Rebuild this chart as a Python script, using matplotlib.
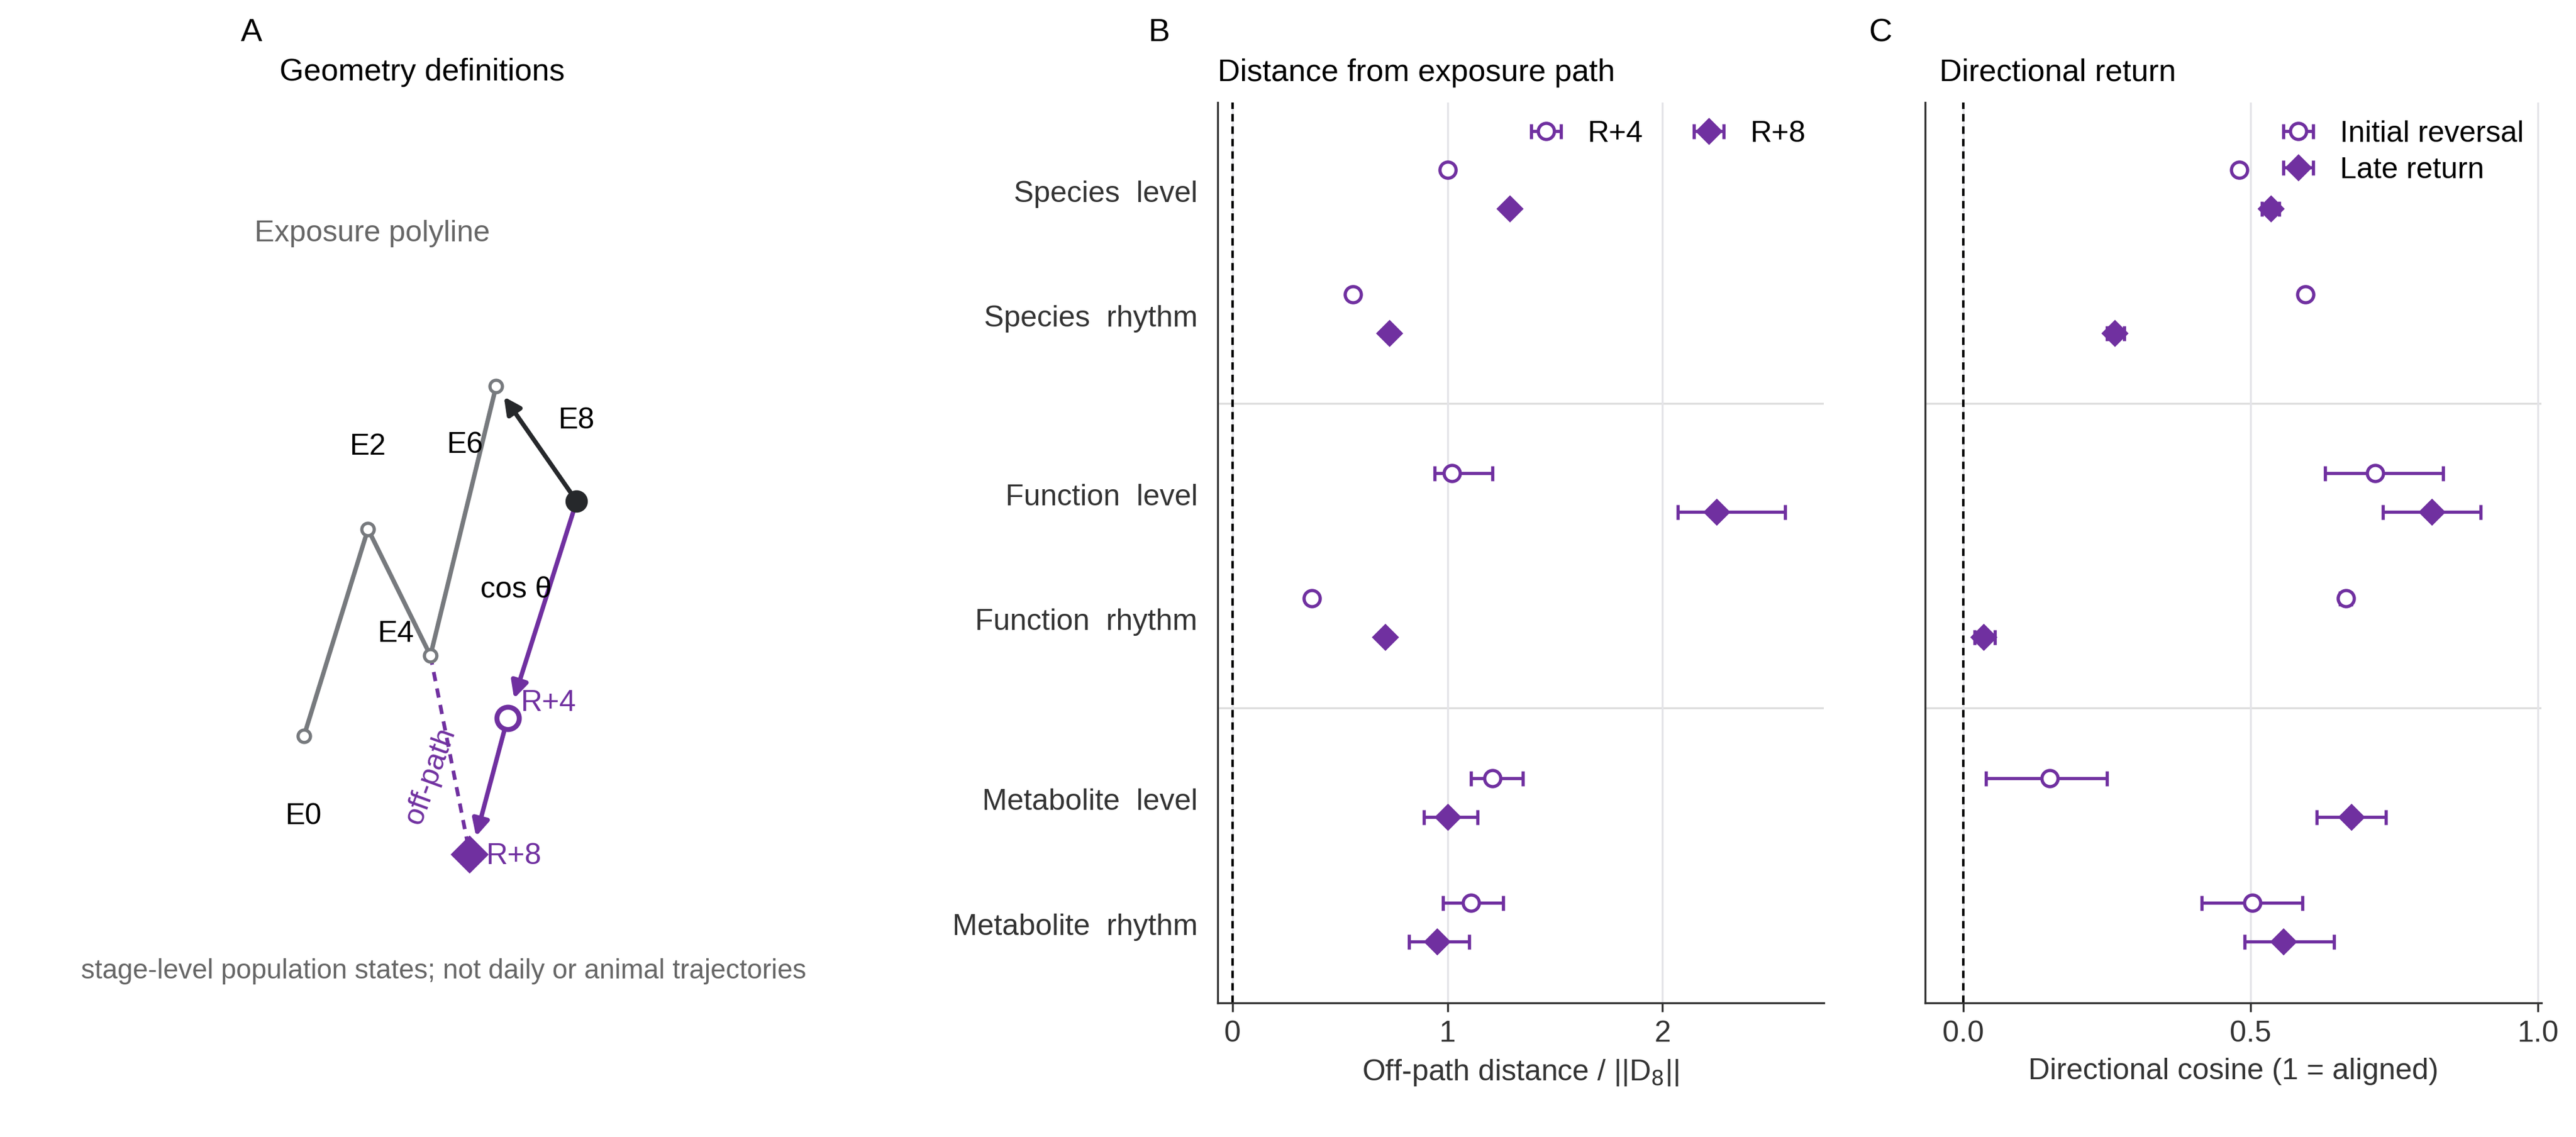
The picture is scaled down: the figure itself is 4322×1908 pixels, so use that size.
import numpy as np
import matplotlib.pyplot as plt

plt.rcParams['font.family'] = ['Liberation Sans', 'DejaVu Sans']
plt.rcParams['font.size'] = 12

purple = '#7030a0'
grey = '#777a7e'
dark = '#26282b'

rows = ['Species  level', 'Species  rhythm', 'Function  level', 'Function  rhythm',
        'Metabolite  level', 'Metabolite  rhythm']
row_pos = [0, 1, 2.43, 3.43, 4.87, 5.87]
separators = [1.70, 4.14]

# panel B: off-path distance (value, low, high)
b_r4 = [1.00, 0.56, 1.02, 0.37, 1.21, 1.11]
b_r4_lo = [1.00, 0.56, 0.94, 0.37, 1.11, 0.98]
b_r4_hi = [1.00, 0.56, 1.21, 0.37, 1.35, 1.26]
b_r8 = [1.29, 0.73, 2.25, 0.71, 1.00, 0.95]
b_r8_lo = [1.29, 0.73, 2.07, 0.71, 0.89, 0.82]
b_r8_hi = [1.29, 0.73, 2.57, 0.71, 1.14, 1.10]

# panel C: directional cosine
c_init = [0.48, 0.595, 0.717, 0.666, 0.15, 0.503]
c_init_lo = [0.48, 0.595, 0.63, 0.655, 0.04, 0.415]
c_init_hi = [0.48, 0.595, 0.835, 0.675, 0.25, 0.59]
c_late = [0.535, 0.263, 0.815, 0.035, 0.675, 0.557]
c_late_lo = [0.52, 0.25, 0.73, 0.02, 0.615, 0.49]
c_late_hi = [0.55, 0.28, 0.90, 0.055, 0.735, 0.645]

# panel A geometry (schematic coordinates)
expo_x = [185, 224, 262, 302]
expo_y = [448, 322, 399, 235]
expo_labels = ['E0', 'E2', 'E4', 'E6']
expo_label_xy = [(185, 497), (224, 272), (241, 386), (283, 271)]
e8 = (351, 305)
r4 = (309, 437)
r8 = (286, 520)

fig = plt.figure(figsize=(4322 / 300, 1908 / 300), dpi=300)

# ---- panel A
axA = fig.add_axes([0, 0, 0.35, 1])
axA.set_xlim(0, 0.35 * 1568)
axA.set_ylim(692, 0)
axA.axis('off')
axA.text(153, 20, 'A', fontsize=13, ha='center', va='center')
axA.text(170, 44, 'Geometry definitions', fontsize=12.5, ha='left', va='center')
axA.text(155, 142, 'Exposure polyline', fontsize=12, color='#666666', ha='left', va='center')
axA.plot(expo_x, expo_y, color=grey, lw=1.8, zorder=2)
axA.plot(expo_x, expo_y, 'o', mfc='white', mec=grey, mew=1.3, ms=5, zorder=3)
for lab, (x, y) in zip(expo_labels, expo_label_xy):
    axA.text(x, y, lab, fontsize=12, ha='center', va='center')
axA.text(351, 256, 'E8', fontsize=12, ha='center', va='center')
axA.annotate('', xy=(expo_x[-1] + 3, expo_y[-1] + 4), xytext=e8,
             arrowprops=dict(arrowstyle='-|>', color=dark, lw=1.8, mutation_scale=14))
axA.annotate('', xy=(r4[0] + 3, r4[1] - 9), xytext=e8,
             arrowprops=dict(arrowstyle='-|>', color=purple, lw=1.8, mutation_scale=14))
axA.annotate('', xy=(r8[0] + 3, r8[1] - 8), xytext=r4,
             arrowprops=dict(arrowstyle='-|>', color=purple, lw=1.8, mutation_scale=14))
axA.plot([expo_x[2], r8[0]], [expo_y[2], r8[1]], color=purple, lw=1.5, ls=(0, (2.5, 2)), zorder=2)
axA.plot(*e8, 'o', color=dark, ms=8, zorder=4)
axA.plot(*r4, 'o', mfc='white', mec=purple, mew=2, ms=9, zorder=4)
axA.plot(*r8, 'D', color=purple, ms=10, zorder=4)
axA.text(314, 359, 'cos θ', fontsize=12, ha='center', va='center')
axA.text(317, 428, 'R+4', fontsize=12, color=purple, ha='left', va='center')
axA.text(296, 521, 'R+8', fontsize=12, color=purple, ha='left', va='center')
axA.text(262, 472, 'off-path', fontsize=12, color=purple, rotation=70, ha='center', va='center')
axA.text(270, 591, 'stage-level population states; not daily or animal trajectories',
         fontsize=11, color='#666666', ha='center', va='center')


def style(ax, xlim):
    ax.set_xlim(*xlim)
    ax.set_ylim(6.5, -0.71)
    for s in ['top', 'right']:
        ax.spines[s].set_visible(False)
    for s in ['left', 'bottom']:
        ax.spines[s].set_color('#333333')
    ax.grid(axis='x', color='#e4e4e8', lw=0.8)
    ax.set_axisbelow(True)
    for s in separators:
        ax.axhline(s, color='#dddddd', lw=0.8, zorder=0)
    ax.axvline(0, color='black', lw=1, ls=(0, (3, 2)), zorder=1)
    ax.tick_params(colors='#333333', labelsize=12)


pos = np.array(row_pos)

# ---- panel B
axB = fig.add_axes([0.4726, 0.118, 0.2354, 0.792])
style(axB, (-0.07, 2.75))
for v, lo, hi, off, mk, fc, lab in [(b_r4, b_r4_lo, b_r4_hi, -0.17, 'o', 'white', 'R+4'),
                                    (b_r8, b_r8_lo, b_r8_hi, 0.14, 'D', purple, 'R+8')]:
    v = np.array(v)
    err = [v - np.array(lo), np.array(hi) - v]
    axB.errorbar(v, pos + off, xerr=err, fmt=mk, color=purple, mfc=fc, mec=purple, mew=1.3,
                 ms=6.5, capsize=3, elinewidth=1.3, label=lab, zorder=3)
axB.set_yticks(pos)
axB.set_yticklabels(rows)
axB.tick_params(axis='y', length=0, pad=8)
axB.set_xticks([0, 1, 2])
axB.set_xlabel('Off-path distance / ||D$_8$||', fontsize=12, color='#333333')
axB.legend(loc='upper right', ncol=2, frameon=False, fontsize=12, handletextpad=0.4,
           columnspacing=1.2, borderaxespad=0.2)
fig.text(0.450, 0.971, 'B', fontsize=13, ha='center', va='center')
fig.text(0.4726, 0.936, 'Distance from exposure path', fontsize=12.5, ha='left', va='center')

# ---- panel C
axC = fig.add_axes([0.7474, 0.118, 0.2392, 0.792])
style(axC, (-0.066, 1.006))
for v, lo, hi, off, mk, fc, lab in [(c_init, c_init_lo, c_init_hi, -0.17, 'o', 'white', 'Initial reversal'),
                                    (c_late, c_late_lo, c_late_hi, 0.14, 'D', purple, 'Late return')]:
    v = np.array(v)
    err = [v - np.array(lo), np.array(hi) - v]
    axC.errorbar(v, pos + off, xerr=err, fmt=mk, color=purple, mfc=fc, mec=purple, mew=1.3,
                 ms=6.5, capsize=3, elinewidth=1.3, label=lab, zorder=3)
axC.set_yticks([])
axC.set_xticks([0, 0.5, 1.0])
axC.set_xticklabels(['0.0', '0.5', '1.0'])
axC.set_xlabel('Directional cosine (1 = aligned)', fontsize=12, color='#333333')
axC.legend(loc='upper right', frameon=False, fontsize=12, handletextpad=0.4,
           borderaxespad=0.2, labelspacing=0.3)
fig.text(0.730, 0.971, 'C', fontsize=13, ha='center', va='center')
fig.text(0.753, 0.936, 'Directional return', fontsize=12.5, ha='left', va='center')

fig.savefig('out.png', dpi=300)
